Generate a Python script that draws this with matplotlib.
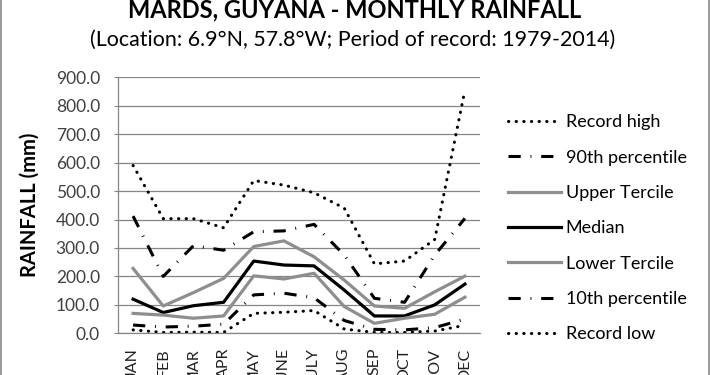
import matplotlib
matplotlib.use("Agg")
import matplotlib.pyplot as plt
from matplotlib.lines import Line2D

plt.rcParams['font.family'] = ['Lato', 'DejaVu Sans']

# Valores (mm)
months = ['JAN', 'FEB', 'MAR', 'APR', 'MAY', 'JUNE', 'JULY', 'AUG', 'SEP', 'OCT', 'NOV', 'DEC']
record_high = [590, 403, 403, 371, 537, 521, 494, 440, 244, 254, 330, 855]
p90 = [412, 200, 308, 292, 357, 360, 383, 275, 123, 109, 275, 404]
upper_tercile = [228, 96, 143, 193, 305, 325, 269, 187, 96, 88, 146, 201]
median = [120, 73, 97, 109, 254, 240, 237, 152, 61, 61, 100, 173]
lower_tercile = [70, 64, 53, 61, 202, 191, 211, 94, 35, 53, 67, 127]
p10 = [29, 22, 25, 32, 135, 141, 125, 45, 14, 12, 20, 50]
record_low = [12, 3, 4, 3, 70, 74, 80, 15, 3, 3, 8, 28]
yticks = [0, 100, 200, 300, 400, 500, 600, 700, 800, 900]

W, H = 710, 375
fig = plt.figure(figsize=(W / 100, H / 100), dpi=100)
ax = fig.add_axes([118 / W, (H - 333.3) / H, (480 - 118) / W, (333.3 - 77.3) / H])

x = range(len(months))
dots = (0, (0.1, 2.4))
dashdot = (0, (4.0, 3.2, 0.3, 3.2))
gray = '#8e8e8e'

ax.plot(x, record_high, color='black', lw=2.2, ls=dots, dash_capstyle='round', label='Record high')
ax.plot(x, p90, color='black', lw=2.2, ls=dashdot, label='90th percentile')
ax.plot(x, upper_tercile, color=gray, lw=2.3, label='Upper Tercile')
ax.plot(x, median, color='black', lw=2.3, label='Median')
ax.plot(x, lower_tercile, color=gray, lw=2.3, label='Lower Tercile')
ax.plot(x, p10, color='black', lw=2.2, ls=dashdot, label='10th percentile')
ax.plot(x, record_low, color='black', lw=2.2, ls=dots, dash_capstyle='round', label='Record low')

ax.set_xlim(-0.5, len(months) - 0.5)
ax.set_ylim(0, 900)
ax.set_yticks(yticks)
ax.set_yticklabels([f'{v:.1f}' for v in yticks])
ax.set_xticks(list(x))
ax.set_xticklabels(months, rotation=90, va='top')
ax.tick_params(axis='y', length=3, color='#868686', pad=10, labelsize=12.5, labelcolor='#404040')
ax.tick_params(axis='x', length=0, pad=10.5, labelsize=11.5, labelcolor='#202020')
ax.grid(axis='y', color='#868686', lw=0.9)
ax.set_axisbelow(True)
for s in ['top', 'right']:
    ax.spines[s].set_visible(False)
for s in ['left', 'bottom']:
    ax.spines[s].set_color('#868686')
    ax.spines[s].set_linewidth(0.9)

ax.set_ylabel('RAINFALL (mm)', fontsize=14.5, fontweight='bold')
ax.yaxis.set_label_coords((40 - 118) / 362, 0.5)

fig.text(0.499, (H - 17) / H, 'MARDS, GUYANA - MONTHLY RAINFALL', ha='center', va='baseline',
         fontsize=17, fontweight='bold')
fig.text(0.497, (H - 45.5) / H, '(Location: 6.9°N, 57.8°W; Period of record: 1979-2014)',
         ha='center', va='baseline', fontsize=15.4)

ax.legend(loc='upper left', bbox_to_anchor=(492 / W, (H - 98) / H), bbox_transform=fig.transFigure,
          frameon=False, fontsize=13, handlelength=2.9, handletextpad=0.28, labelspacing=1.07)

# borde gris del recuadro
fig.add_artist(Line2D([0.7 / W, 0.7 / W], [0, 1], color='#888888', lw=1.2))
fig.add_artist(Line2D([1 - 0.7 / W, 1 - 0.7 / W], [0, 1], color='#888888', lw=1.2))

plt.savefig('out.png', dpi=100)
